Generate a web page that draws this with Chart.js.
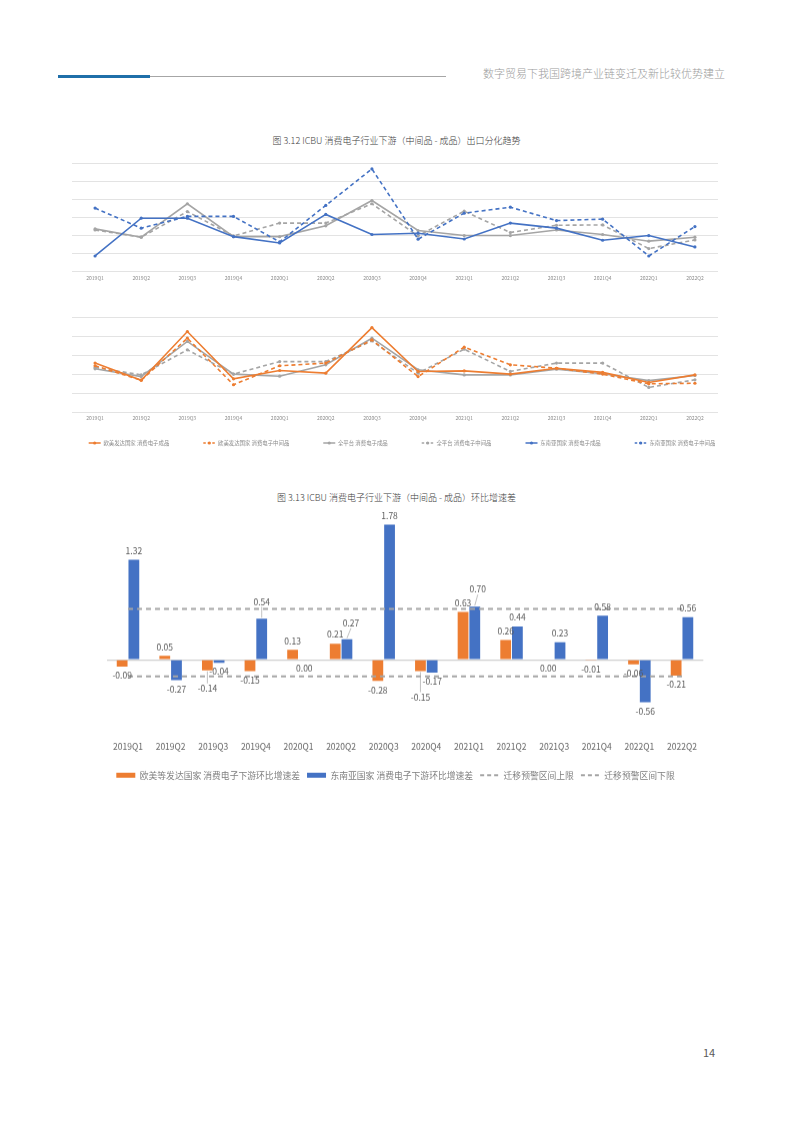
<!DOCTYPE html>
<html lang="zh-CN">
<head>
<meta charset="utf-8">
<title>ICBU 消费电子行业下游</title>
<script src="https://cdn.jsdelivr.net/npm/chart.js@4.4.1/dist/chart.umd.min.js"></script>
<style>
  html, body { margin: 0; padding: 0; background: #fff; }
  body { width: 793px; height: 1122px; position: relative; overflow: hidden;
         font-family: "Noto Sans CJK SC", "Noto Sans", sans-serif; }
  .abs { position: absolute; }
  .rule-blue { left: 58px; top: 75px; width: 92px; height: 3px; background: #1f6fa9; }
  .rule-grey { left: 150px; top: 76px; width: 296px; height: 1px; background: #a6a6a6; }
  .running { left: 483px; top: 66px; font-size: 11px; line-height: 14px; color: #9b9b9b; font-weight: 300; }
  .title { left: 0; width: 793px; text-align: center; font-size: 9px; line-height: 12px; color: #3a3a3a; font-weight: 300; }
  .page { left: 703px; top: 1045px; font-size: 11px; line-height: 14px; color: #595959; }
</style>
</head>
<body>
<div class="abs rule-blue"></div>
<div class="abs rule-grey"></div>
<div class="abs running">数字贸易下我国跨境产业链变迁及新比较优势建立</div>

<div class="abs title" style="top:135px">图 3.12 ICBU 消费电子行业下游（中间品 - 成品）出口分化趋势</div>
<div class="abs" style="left:0;top:150px;width:793px;height:140px"><canvas id="topChart"></canvas></div>
<div class="abs" style="left:0;top:305px;width:793px;height:175.2px"><canvas id="bottomChart"></canvas></div>

<div class="abs title" style="top:492px">图 3.13 ICBU 消费电子行业下游（中间品 - 成品）环比增速差</div>
<div class="abs" style="left:0;top:500px;width:793px;height:288.6px"><canvas id="barChart"></canvas></div>

<div class="abs page">14</div>

<script>
const quarters = ['2019Q1', '2019Q2', '2019Q3', '2019Q4', '2020Q1', '2020Q2', '2020Q3',
                  '2020Q4', '2021Q1', '2021Q2', '2021Q3', '2021Q4', '2022Q1', '2022Q2'];

// upper panel: SEA vs whole platform (no axis values in the source)
const seaFinished          = [0.87, 2.96, 2.96, 1.94, 1.59, 3.17, 2.06, 2.13, 1.81, 2.69, 2.41, 1.74, 2.00, 1.37];
const seaIntermediate      = [3.52, 2.41, 3.06, 3.06, 1.65, 3.67, 5.69, 1.80, 3.24, 3.57, 2.83, 2.91, 0.87, 2.50];
const platformFinishedA    = [2.37, 1.91, 3.76, 1.94, 1.94, 2.54, 3.94, 2.28, 2.00, 2.00, 2.31, 2.06, 1.69, 1.91];
const platformIntermedA    = [2.31, 1.91, 3.33, 1.98, 2.69, 2.69, 3.76, 1.98, 3.35, 2.17, 2.57, 2.59, 1.28, 1.76];

// lower panel: developed markets vs whole platform
const euFinished           = [2.60, 1.70, 4.26, 1.77, 2.21, 2.07, 4.47, 2.16, 2.19, 2.02, 2.33, 2.11, 1.58, 1.98];
const euIntermediate       = [2.46, 1.70, 3.91, 1.46, 2.46, 2.60, 3.82, 1.89, 3.44, 2.51, 2.33, 2.02, 1.51, 1.54];
const platformFinishedB    = [2.30, 1.89, 3.74, 2.02, 1.91, 2.51, 3.91, 2.25, 1.98, 1.98, 2.28, 2.04, 1.68, 1.95];
const platformIntermedB    = [2.37, 1.98, 3.30, 2.02, 2.68, 2.68, 3.77, 2.07, 3.33, 2.16, 2.60, 2.60, 1.32, 1.72];

// fig 3.13
const euDiff     = [-0.09, 0.05, -0.14, -0.15, 0.13, 0.21, -0.28, -0.15, 0.63, 0.26, 0.00, -0.01, -0.06, -0.21];
const seaDiff    = [1.32, -0.27, -0.04, 0.54, 0.00, 0.27, 1.78, -0.17, 0.70, 0.44, 0.23, 0.58, -0.56, 0.56];
const upperLimit = [0.67, 0.67, 0.67, 0.67, 0.67, 0.67, 0.67, 0.67, 0.67, 0.67, 0.67, 0.67, 0.67, 0.67];
const lowerLimit = [-0.22, -0.22, -0.22, -0.22, -0.22, -0.22, -0.22, -0.22, -0.22, -0.22, -0.22, -0.22, -0.22, -0.22];

const ORANGE = '#ED7D31';
const BLUE = '#4472C4';
const GREY = '#A5A5A5';

Chart.defaults.font.family = '"Noto Sans CJK SC", "Noto Sans", sans-serif';
Chart.defaults.animation = false;

function lineDataset(label, data, color, dashed) {
    return {
        label: label,
        data: data,
        borderColor: color,
        backgroundColor: color,
        borderWidth: 1.6,
        borderDash: dashed ? [4, 3] : [],
        pointRadius: 1.6,
        pointBorderWidth: 0,
        pointBackgroundColor: color,
        tension: 0
    };
}

// the legend symbol is a line; put a little dot in the middle like the source
const legendMarkers = {
    id: 'legendMarkers',
    afterDraw(chart, args, opts) {
        const legend = chart.legend;
        if (!opts.radius || !legend || !legend.options.display) return;
        const ctx = chart.ctx;
        ctx.save();
        legend.legendItems.forEach((item, i) => {
            const box = legend.legendHitBoxes[i];
            ctx.beginPath();
            ctx.fillStyle = item.strokeStyle;
            ctx.arc(box.left + opts.boxWidth / 2, box.top + opts.fontSize / 2, opts.radius, 0, Math.PI * 2);
            ctx.fill();
        });
        ctx.restore();
    }
};

// move the legend without touching the plot area
const legendNudge = {
    id: 'legendNudge',
    afterLayout(chart, args, opts) {
        const legend = chart.legend;
        if (!legend) return;
        const dx = opts.dx || 0;
        const dy = opts.dy || 0;
        legend.top += dy;
        legend.bottom += dy;
        legend.left += dx;
        legend.right += dx;
    }
};

// plot area is held at x 72..718 by two empty side axes so the legend can use the full width
function lineOptions(yMax, padTop, legend) {
    return {
        responsive: true,
        maintainAspectRatio: false,
        layout: {padding: {left: 11, right: 0, top: padTop, bottom: 0}},
        scales: {
            x: {
                offset: true,
                grid: {display: false, drawTicks: false},
                border: {display: false},
                ticks: {font: {size: 5}, color: '#8a8a8a', padding: 3, maxRotation: 0, autoSkip: false},
                afterFit: s => { s.height = 18.3; }
            },
            y: {
                min: 0,
                max: yMax,
                ticks: {display: false, stepSize: 1},
                grid: {color: '#e3e3e3', drawTicks: false},
                border: {display: false},
                afterFit: s => { s.width = 61; }
            },
            yRight: {
                position: 'right',
                ticks: {display: false},
                grid: {display: false, drawTicks: false},
                border: {display: false},
                afterFit: s => { s.width = 75; }
            }
        },
        plugins: {
            legend: legend,
            tooltip: {enabled: false},
            legendMarkers: {radius: legend.display ? 1.6 : 0, boxWidth: 12, fontSize: 5.4},
            legendNudge: {dy: legend.display ? -24.5 : 0}
        }
    };
}

// with usePointStyle the default items take the point's (zero) border, use the line's instead
function lineLegendItems(chart) {
    return Chart.defaults.plugins.legend.labels.generateLabels(chart).map(item => {
        const ds = chart.data.datasets[item.datasetIndex];
        item.pointStyle = 'line';
        item.strokeStyle = ds.borderColor;
        item.lineWidth = ds.borderWidth;
        item.lineDash = ds.borderDash.length ? [2.5, 2] : [];
        item.fontColor = '#8a8a8a';
        return item;
    });
}

new Chart(document.getElementById('topChart'), {
    type: 'line',
    data: {
        labels: quarters,
        datasets: [
            lineDataset('东南亚国家 消费电子成品', seaFinished, BLUE, false),
            lineDataset('东南亚国家 消费电子中间品', seaIntermediate, BLUE, true),
            lineDataset('全平台 消费电子成品', platformFinishedA, GREY, false),
            lineDataset('全平台 消费电子中间品', platformIntermedA, GREY, true)
        ]
    },
    options: lineOptions(6, 13.3, {display: false}),
    plugins: [legendMarkers, legendNudge]
});

new Chart(document.getElementById('bottomChart'), {
    type: 'line',
    data: {
        labels: quarters,
        datasets: [
            lineDataset('欧美发达国家 消费电子成品', euFinished, ORANGE, false),
            lineDataset('欧美发达国家 消费电子中间品', euIntermediate, ORANGE, true),
            lineDataset('全平台 消费电子成品', platformFinishedB, GREY, false),
            lineDataset('全平台 消费电子中间品', platformIntermedB, GREY, true),
            // legend only, these are drawn in the upper panel
            lineDataset('东南亚国家 消费电子成品', [], BLUE, false),
            lineDataset('东南亚国家 消费电子中间品', [], BLUE, true)
        ]
    },
    options: lineOptions(5, 12.5, {
        display: true,
        position: 'bottom',
        labels: {
            usePointStyle: true,
            pointStyleWidth: 12,
            font: {size: 5.4},
            color: '#8a8a8a',
            padding: 34,
            generateLabels: lineLegendItems
        }
    }),
    plugins: [legendMarkers, legendNudge]
});

// value labels on the bars, a few are pulled away with a leader line as in the source
const barLabels = {
    id: 'barLabels',
    afterDatasetsDraw(chart, args, opts) {
        const ctx = chart.ctx;
        const zero = chart.scales.y.getPixelForValue(0);
        ctx.save();
        ctx.font = '8.5px "Noto Sans CJK SC", "Noto Sans", sans-serif';
        ctx.textAlign = 'center';
        ctx.textBaseline = 'middle';
        [0, 1].forEach(di => {
            const values = chart.data.datasets[di].data;
            chart.getDatasetMeta(di).data.forEach((bar, i) => {
                const v = values[i];
                const up = v > 0;
                const end = up ? bar.y : Math.max(bar.y, zero);
                const nudge = opts.nudges[di + ':' + i] || [0, 0];
                const x = bar.x + nudge[0];
                const y = (up ? end - 9 : end + 9) + nudge[1];
                if (nudge[0] || nudge[1]) {
                    ctx.beginPath();
                    ctx.strokeStyle = '#a6a6a6';
                    ctx.lineWidth = 0.7;
                    ctx.moveTo(bar.x, up ? end - 1 : end + 1);
                    ctx.lineTo(x, up ? y + 5 : y - 5);
                    ctx.stroke();
                }
                ctx.fillStyle = '#595959';
                ctx.fillText(v.toFixed(2), x, y);
            });
        });
        ctx.restore();
    }
};

new Chart(document.getElementById('barChart'), {
    type: 'bar',
    data: {
        labels: quarters,
        datasets: [
            {label: '欧美等发达国家 消费电子下游环比增速差', data: euDiff, backgroundColor: ORANGE,
             barPercentage: 0.92, categoryPercentage: 0.55, order: 2},
            {label: '东南亚国家 消费电子下游环比增速差', data: seaDiff, backgroundColor: BLUE,
             barPercentage: 0.92, categoryPercentage: 0.55, order: 2},
            {type: 'line', label: '迁移预警区间上限', data: upperLimit, borderColor: GREY, backgroundColor: GREY,
             borderWidth: 2, borderDash: [5, 4], pointRadius: 0, order: 1},
            {type: 'line', label: '迁移预警区间下限', data: lowerLimit, borderColor: GREY, backgroundColor: GREY,
             borderWidth: 2, borderDash: [5, 4], pointRadius: 0, order: 1}
        ]
    },
    options: {
        responsive: true,
        maintainAspectRatio: false,
        layout: {padding: {left: 106.7, right: 89.7, top: 8, bottom: 0}},
        scales: {
            x: {
                grid: {display: false, drawTicks: false},
                border: {display: false},
                ticks: {font: {size: 8.5}, color: '#666', padding: 25, maxRotation: 0, autoSkip: false},
                afterFit: s => { s.height = 47; }
            },
            y: {
                min: -0.75,
                max: 2.0,
                ticks: {display: false, stepSize: 0.25},
                grid: {
                    color: c => c.tick.value === 0 ? '#d0d0d0' : 'rgba(0,0,0,0)',
                    lineWidth: 1.2,
                    drawTicks: false
                },
                border: {display: false},
                afterFit: s => { s.width = 0; }
            }
        },
        plugins: {
            tooltip: {enabled: false},
            legend: {
                position: 'bottom',
                labels: {
                    usePointStyle: true,
                    pointStyleWidth: 19,
                    font: {size: 8.8},
                    color: '#7f7f7f',
                    padding: 7,
                    sort: (a, b) => a.datasetIndex - b.datasetIndex,
                    generateLabels: chart => Chart.defaults.plugins.legend.labels.generateLabels(chart).map(item => {
                        item.pointStyle = 'line';
                        item.fontColor = '#7f7f7f';
                        if (item.datasetIndex < 2) {
                            item.strokeStyle = item.fillStyle;
                            item.lineWidth = 5;
                            item.lineDash = [];
                        } else {
                            item.lineWidth = 2;
                            item.lineDash = [4, 3];
                        }
                        return item;
                    })
                }
            },
            legendNudge: {dx: -9.5},
            barLabels: {
                nudges: {'0:2': [0, 9], '1:3': [0, -8], '1:5': [4, -7], '0:7': [0, 17], '1:8': [3, -8]}
            }
        }
    },
    plugins: [barLabels, legendNudge]
});
</script>
</body>
</html>
